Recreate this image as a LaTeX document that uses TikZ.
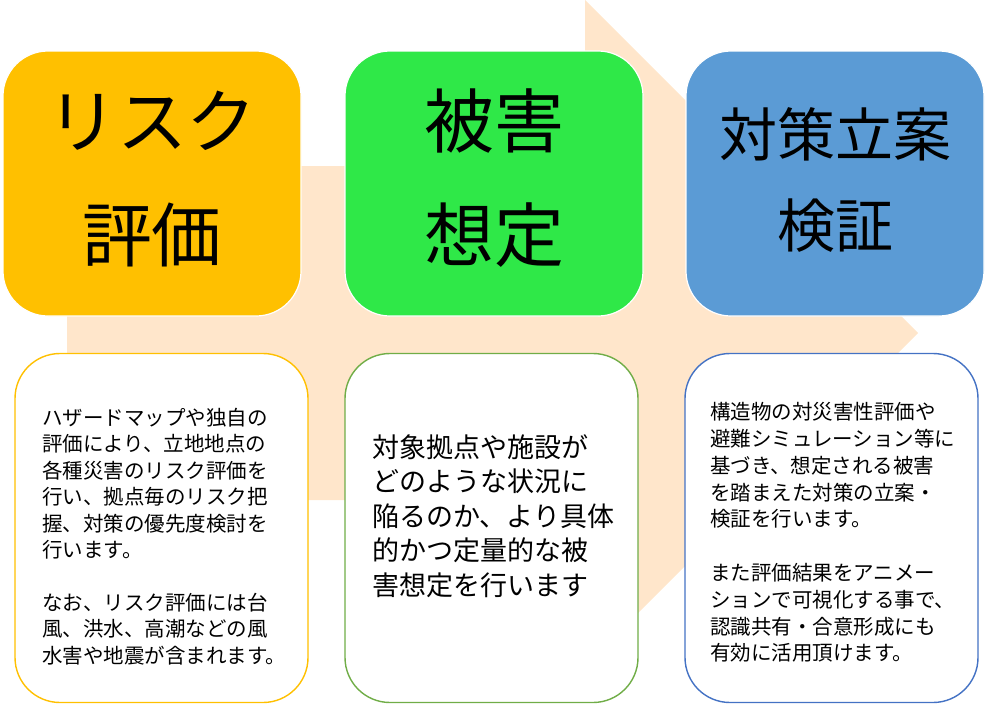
\documentclass[tikz,border=0pt]{standalone}
\usepackage{fontspec}
\newfontfamily\jp{Noto Sans CJK JP}
\definecolor{peach}{HTML}{FFE6CB}
\definecolor{torange}{HTML}{FFC000}
\definecolor{tgreen}{HTML}{2FE848}
\definecolor{tblue}{HTML}{5B9BD5}
\definecolor{lorange}{HTML}{FFC000}
\definecolor{lgreen}{HTML}{70AD47}
\definecolor{lblue}{HTML}{4472C4}
\tikzset{
  titlebox/.style={rectangle, rounded corners=45pt, draw=white, line width=1.2pt,
    minimum width=298pt, minimum height=265pt, inner sep=0pt},
  descbox/.style={rectangle, rounded corners=45pt, fill=white, line width=1.4pt,
    minimum width=293pt, minimum height=349pt, inner sep=0pt},
  titletext/.style={align=center, inner sep=0pt, text=black},
  desctext/.style={align=left, inner sep=0pt, anchor=west, text=black}
}
\begin{document}
\begin{tikzpicture}[x=1pt,y=-1pt]
\useasboundingbox (0,0) rectangle (986,704);
% background arrow
\fill[peach] (67,166) -- (585,166) -- (585,0) -- (918,333) -- (585,666) -- (585,500) -- (67,500) -- cycle;
% title boxes
\node[titlebox, fill=torange] (b1) at (152,183.5) {};
\node[titlebox, fill=tgreen] (b2) at (494,183.5) {};
\node[titlebox, fill=tblue] (b3) at (835,183.5) {};
\node[titletext, font=\jp\fontsize{70}{114}\selectfont] (t1) at (152,179) {リスク\\評価};
\node[titletext, font=\jp\fontsize{70}{114}\selectfont] (t2) at (494,178.5) {被害\\想定};
\node[titletext, font=\jp\fontsize{58}{91}\selectfont] (t3) at (835,179.5) {対策立案\\検証};
% description boxes
\node[descbox, draw=lorange] (d1) at (161.5,528) {};
\node[descbox, draw=lgreen] (d2) at (491.5,528) {};
\node[descbox, draw=lblue] (d3) at (831.5,528) {};
\node[desctext, font=\jp\fontsize{20.5}{26.4}\selectfont] (x1) at (42,536.5)
{ハザードマップや独自の\\評価により、立地地点の\\各種災害のリスク評価を\\行い、拠点毎のリスク把\\握、対策の優先度検討を\\行います。\\[26.4pt]なお、リスク評価には台\\風、洪水、高潮などの風\\水害や地震が含まれます。};
\node[desctext, font=\jp\fontsize{27}{34.5}\selectfont] (x2) at (372,516)
{対象拠点や施設が\\どのような状況に\\陥るのか、より具体\\的かつ定量的な被\\害想定を行います};
\node[desctext, font=\jp\fontsize{20.5}{26.8}\selectfont] (x3) at (710,532.5)
{構造物の対災害性評価や\\避難シミュレーション等に\\基づき、想定される被害\\を踏まえた対策の立案・\\検証を行います。\\[26.8pt]また評価結果をアニメー\\ションで可視化する事で、\\認識共有・合意形成にも\\有効に活用頂けます。};
\end{tikzpicture}
\end{document}
